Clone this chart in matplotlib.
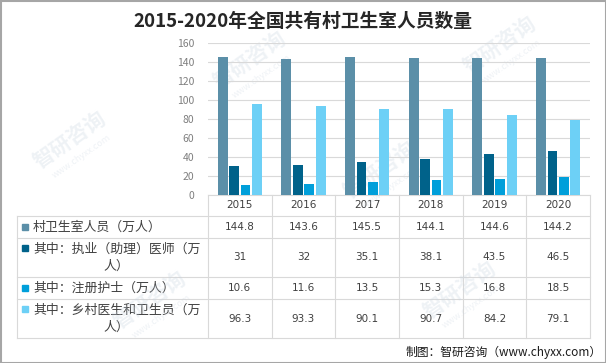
import matplotlib
matplotlib.use('Agg')
import matplotlib.pyplot as plt
from matplotlib.patches import Rectangle
import numpy as np

plt.rcParams['font.family'] = ['Noto Sans CJK SC', 'DejaVu Sans']

# data
years = ['2015', '2016', '2017', '2018', '2019', '2020']
series_names = ['村卫生室人员（万人）',
                '其中：执业（助理）医师（万\n人）',
                '其中：注册护士（万人）',
                '其中：乡村医生和卫生员（万\n人）']
staff_total = [144.8, 143.6, 145.5, 144.1, 144.6, 144.2]
doctors = [31, 32, 35.1, 38.1, 43.5, 46.5]
nurses = [10.6, 11.6, 13.5, 15.3, 16.8, 18.5]
village_doctors = [96.3, 93.3, 90.1, 90.7, 84.2, 79.1]
all_series = [staff_total, doctors, nurses, village_doctors]
colors = ['#5B8FA8', '#00628A', '#009FDA', '#6DD0F6']

W, H = 606, 363
fig = plt.figure(figsize=(W / 100, H / 100), dpi=100)

# background axes in pixel coords for table and texts
bg = fig.add_axes([0, 0, 1, 1])
bg.set_xlim(0, W)
bg.set_ylim(H, 0)
bg.axis('off')

# plot area
x0, x1, ytop, ybot = 208, 590, 43, 195
ax = fig.add_axes([x0 / W, (H - ybot) / H, (x1 - x0) / W, (ybot - ytop) / H])
ax.set_xlim(-0.5, 5.5)
ax.set_ylim(0, 160)
ax.set_yticks(np.arange(0, 161, 20))
ax.grid(axis='y', color='#D9D9D9', linewidth=0.8)
ax.set_axisbelow(True)
for s in ax.spines.values():
    s.set_visible(False)
ax.tick_params(axis='y', length=0, labelsize=7.5, labelcolor='#7F7F7F', pad=10)
ax.set_xticks([])
ax.patch.set_alpha(0)

x = np.arange(len(years))
offsets = [-0.27, -0.09, 0.09, 0.27]
for vals, off, c in zip(all_series, offsets, colors):
    ax.bar(x + off, vals, width=0.155, color=c, zorder=3)

# table
col_w = (x1 - x0) / len(years)
row_lines = [195, 216, 238, 277, 299, 338]
lc = '#D9D9D9'
bg.plot([x0, x1], [195, 195], color=lc, lw=0.8)
for yl in row_lines[1:]:
    bg.plot([17, x1], [yl, yl], color=lc, lw=0.8)
for i in range(len(years) + 1):
    xv = x0 + i * col_w
    bg.plot([xv, xv], [195, 338], color=lc, lw=0.8)
bg.plot([17, 17], [216, 338], color=lc, lw=0.8)

num_font = ['DejaVu Sans']
for i, yr in enumerate(years):
    bg.text(x0 + (i + 0.5) * col_w, 205.5, yr, ha='center', va='center',
            fontsize=7.5, color='#404040', family=num_font)

for r, (name, vals, c) in enumerate(zip(series_names, all_series, colors)):
    yc = (row_lines[r + 1] + row_lines[r + 2]) / 2
    sq_y = yc - 3.5 if '\n' not in name else yc - 13
    bg.add_patch(Rectangle((22, sq_y), 6, 6, color=c))
    bg.text(33, yc, name, ha='left', va='center', fontsize=9.3, color='#404040',
            multialignment='center', linespacing=1.4)
    for i, v in enumerate(vals):
        bg.text(x0 + (i + 0.5) * col_w, yc, f'{v:g}', ha='center', va='center',
                fontsize=7.5, color='#404040', family=num_font)

# title and source
bg.text(303, 21, '2015-2020年全国共有村卫生室人员数量', ha='center', va='center',
        fontsize=13.5, fontweight='bold', color='#262626')
bg.text(602, 352, '制图：智研咨询（www.chyxx.com）', ha='right', va='center',
        fontsize=8.5, color='#1A1A1A')

# watermarks
for wx, wy in [(70, 140), (250, 60), (500, 45), (380, 170), (150, 300), (460, 290)]:
    bg.text(wx, wy, '智研咨询', rotation=35, fontsize=15, color='#C8D4E0',
            alpha=0.3, ha='center', va='center', fontweight='bold')
    bg.text(wx + 12, wy + 16, 'www.chyxx.com', rotation=35, fontsize=6.5,
            color='#C8D4E0', alpha=0.3, ha='center', va='center')

# outer border
bg.add_patch(Rectangle((0.5, 0.5), W - 1, H - 1, fill=False, edgecolor='#A6A6A6', lw=1.5))

fig.savefig('out.png', dpi=100)
